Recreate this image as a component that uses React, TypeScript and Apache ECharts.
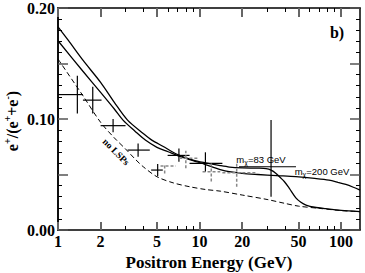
import React, { useEffect, useRef } from 'react';
import * as echarts from 'echarts';

const E_MAX = 136;
const majorTicks = [1, 2, 5, 10, 20, 50, 100];
const minorTicks = [3, 4, 6, 7, 8, 9, 30, 40, 60, 70, 80, 90];

// black crosses
const crossEnergy = [1.37, 1.76, 2.45, 3.68, 5.06, 7.15, 11.0, 32.0];
const crossValue = [0.122, 0.117, 0.094, 0.072, 0.054, 0.0672, 0.060, 0.057];
const crossELow = [1.0, 1.5, 2.0, 3.1, 4.55, 5.95, 8.5, 19.0];
const crossEHigh = [1.5, 2.03, 3.0, 4.45, 5.5, 8.5, 14.5, 48.0];
const crossVLow = [0.105, 0.105, 0.088, 0.066, 0.0485, 0.0615, 0.0525, 0.030];
const crossVHigh = [0.139, 0.129, 0.100, 0.078, 0.0595, 0.0735, 0.0700, 0.099];

// grey dashed crosses
const greyEnergy = [5.67, 8.0, 12.1, 18.3];
const greyValue = [0.0577, 0.0646, 0.0525, 0.0516];
const greyELow = [5.3, 7.2, 10.5, 14.5];
const greyEHigh = [6.8, 9.7, 14.0, 25.6];
const greyVLow = [0.051, 0.0556, 0.0436, 0.039];
const greyVHigh = [0.060, 0.0713, 0.060, 0.0615];

// mχ = 83 GeV curve
const m83Energy = [1.0, 1.18, 1.5, 2.0, 2.5, 3.1, 4.0, 4.6, 5.5, 7.0, 9.0, 11.0, 14.0, 16.3, 20.0, 25.8, 29.5, 32.0, 34.7, 37.0, 39.8, 43.1, 47.9, 52.0, 56.5, 65.0, 78.0, 100.0, 136.0];
const m83Value = [0.183, 0.171, 0.153, 0.133, 0.115, 0.099, 0.087, 0.081, 0.0755, 0.068, 0.063, 0.0605, 0.058, 0.0567, 0.0560, 0.0557, 0.0553, 0.0540, 0.0510, 0.0475, 0.0435, 0.0375, 0.0290, 0.0250, 0.0225, 0.0205, 0.0192, 0.0177, 0.0166];

// mχ = 200 GeV curve
const m200Energy = [1.0, 1.5, 2.0, 2.5, 2.88, 3.5, 4.14, 5.0, 6.0, 7.0, 9.0, 11.0, 14.0, 16.2, 20.0, 25.8, 35.0, 47.9, 65.0, 82.0, 95.0, 108.0, 122.0, 136.0];
const m200Value = [0.1705, 0.143, 0.124, 0.109, 0.099, 0.089, 0.081, 0.0745, 0.0705, 0.0670, 0.0625, 0.0590, 0.0545, 0.0525, 0.0510, 0.0500, 0.0490, 0.0480, 0.0465, 0.0450, 0.0430, 0.0410, 0.0385, 0.0360];

// no LSPs background
const bgEnergy = [1.0, 1.5, 2.0, 2.5, 3.0, 3.5, 4.0, 5.0, 6.5, 8.5, 11.0, 14.0, 20.0, 30.0, 40.0, 50.0, 70.0, 100.0, 136.0];
const bgValue = [0.154, 0.121, 0.097, 0.083, 0.073, 0.064, 0.057, 0.048, 0.0425, 0.039, 0.0365, 0.035, 0.0315, 0.0275, 0.024, 0.0215, 0.0195, 0.0175, 0.0165];

const lg = (e: number) => Math.log10(e);
const SERIF = '"Liberation Serif", "Times New Roman", serif';
const SANS = '"Liberation Sans", Arial, sans-serif';
const GRID_LEFT = 58;
const GRID_RIGHT = 5;
const CHART_W = 365;

function crossData(E: number[], V: number[], El: number[], Eh: number[], Vl: number[], Vh: number[]) {
  return E.map((e, i) => [lg(e), V[i], lg(El[i]), lg(Eh[i]), Vl[i], Vh[i]]);
}

function crossRenderer(stroke: string, lineWidth: number, dash: number[] | null) {
  return (params: any, api: any) => {
    const l = api.coord([api.value(2), api.value(1)]);
    const r = api.coord([api.value(3), api.value(1)]);
    const lo = api.coord([api.value(0), api.value(4)]);
    const hi = api.coord([api.value(0), api.value(5)]);
    const style: any = { stroke, lineWidth, fill: null };
    if (dash) style.lineDash = dash;
    return {
      type: 'group',
      children: [
        { type: 'line', shape: { x1: l[0], y1: l[1], x2: r[0], y2: r[1] }, style },
        { type: 'line', shape: { x1: lo[0], y1: lo[1], x2: hi[0], y2: hi[1] }, style },
      ],
    };
  };
}

function xAxisDef(position: 'top' | 'bottom', ticks: number[], len: number, major: boolean, showLine: boolean, showLabel: boolean) {
  return {
    type: 'value',
    position,
    offset: 0,
    min: 0,
    max: lg(E_MAX),
    splitLine: { show: false },
    axisLine: { show: showLine, onZero: false, lineStyle: { color: '#000', width: 1.5 } },
    axisTick: {
      show: true,
      inside: true,
      length: len,
      customValues: ticks.map(lg),
      lineStyle: { color: major ? '#666' : '#000', width: major ? 2 : 1 },
    },
    axisLabel: showLabel
      ? {
          show: true,
          customValues: majorTicks.map(lg),
          formatter: (v: number) => String(Math.round(Math.pow(10, v))),
          color: '#000',
          fontFamily: SERIF,
          fontWeight: 'bold',
          fontSize: 16,
          margin: 3,
        }
      : { show: false },
  };
}

// labels-only left axis
const yLabelAxis = {
  type: 'value',
  position: 'left',
  min: 0,
  max: 0.2,
  interval: 0.1,
  splitLine: { show: false },
  axisLine: { show: true, onZero: false, lineStyle: { color: '#000', width: 1.5 } },
  axisTick: { show: false },
  minorTick: { show: false },
  axisLabel: {
    show: true,
    formatter: (v: number) => v.toFixed(2),
    color: '#000',
    fontFamily: SERIF,
    fontWeight: 'bold',
    fontSize: 16,
    margin: 3,
  },
};

function yTickAxis(offset: number, inside: boolean) {
  return {
    type: 'value',
    position: 'right',
    offset,
    min: 0,
    max: 0.2,
    interval: 0.05,
    splitLine: { show: false },
    axisLine: { show: true, onZero: false, lineStyle: { color: '#000', width: 1.5 } },
    axisTick: { show: true, inside, length: 10, lineStyle: { color: '#555', width: 1.5 } },
    minorTick: { show: true, splitNumber: 5, length: 4, lineStyle: { color: '#000', width: 1 } },
    minorSplitLine: { show: false },
    axisLabel: { show: false },
  };
}

export default function App() {
  const ref = useRef<HTMLDivElement>(null);
  useEffect(() => {
    if (!ref.current) return;
    const chart = echarts.init(ref.current, null, { renderer: 'svg' });
    const line = (E: number[], V: number[], dashed: boolean) => ({
      type: 'line',
      xAxisIndex: 0,
      yAxisIndex: 0,
      data: E.map((e, i) => [lg(e), V[i]]),
      showSymbol: false,
      symbol: 'none',
      smooth: 0.3,
      lineStyle: { color: '#000', width: dashed ? 1 : 1.3, type: dashed ? [5, 3] : 'solid' },
      z: 3,
    });
    const small = (text: string, x: number, y: number) => ({
      type: 'text',
      x,
      y,
      style: {
        text,
        fontFamily: SANS,
        fontSize: 9.5,
        fill: '#000',
        align: 'center',
        verticalAlign: 'middle',
        rich: { s: { fontFamily: SANS, fontSize: 7, verticalAlign: 'bottom', lineHeight: 13, fill: '#000' } },
      },
    });
    const plotW = CHART_W - GRID_LEFT - GRID_RIGHT;
    chart.setOption({
      animation: false,
      backgroundColor: '#fff',
      grid: { left: GRID_LEFT, right: GRID_RIGHT, top: 8, bottom: 43, containLabel: false },
      xAxis: [
        xAxisDef('bottom', majorTicks, 8, true, true, true),
        xAxisDef('bottom', minorTicks, 4, false, false, false),
        xAxisDef('top', majorTicks, 9, true, true, false),
        xAxisDef('top', minorTicks, 4, false, false, false),
      ],
      yAxis: [yLabelAxis, yTickAxis(0, true), yTickAxis(-plotW, false)],
      series: [
        line(bgEnergy, bgValue, true),
        line(m83Energy, m83Value, false),
        line(m200Energy, m200Value, false),
        {
          type: 'custom',
          xAxisIndex: 0,
          yAxisIndex: 0,
          renderItem: crossRenderer('#000', 1.2, null),
          encode: { x: 0, y: 1 },
          data: crossData(crossEnergy, crossValue, crossELow, crossEHigh, crossVLow, crossVHigh),
          z: 4,
        },
        {
          type: 'custom',
          xAxisIndex: 0,
          yAxisIndex: 0,
          renderItem: crossRenderer('#888', 1.5, [3, 2]),
          encode: { x: 0, y: 1 },
          data: crossData(greyEnergy, greyValue, greyELow, greyEHigh, greyVLow, greyVHigh),
          z: 4,
        },
      ],
      graphic: [
        {
          type: 'text',
          x: 12,
          y: 121,
          rotation: Math.PI / 2,
          style: {
            text: '{b|e}{s|+}{b|/(e}{s|+}{b|+e}{s|-}{b|)}',
            align: 'center',
            verticalAlign: 'middle',
            rich: {
              b: { fontFamily: SERIF, fontWeight: 'bold', fontSize: 16, lineHeight: 20, fill: '#000' },
              s: { fontFamily: SERIF, fontWeight: 'bold', fontSize: 10, lineHeight: 20, verticalAlign: 'top', fill: '#000' },
            },
          },
        },
        {
          type: 'text',
          x: 209,
          y: 262,
          style: {
            text: 'Positron Energy (GeV)',
            fontFamily: SERIF,
            fontWeight: 'bold',
            fontSize: 17,
            fill: '#000',
            align: 'center',
            verticalAlign: 'middle',
          },
        },
        {
          type: 'text',
          x: 337,
          y: 32,
          style: {
            text: 'b)',
            fontFamily: SERIF,
            fontWeight: 'bold',
            fontSize: 16,
            fill: '#000',
            align: 'center',
            verticalAlign: 'middle',
          },
        },
        {
          type: 'text',
          x: 116,
          y: 152,
          rotation: -Math.PI / 4,
          style: {
            text: 'no LSPs',
            fontFamily: SERIF,
            fontWeight: 'bold',
            fontSize: 9.5,
            fill: '#000',
            align: 'center',
            verticalAlign: 'middle',
          },
        },
        small('m{s|χ}=83 GeV', 261, 159),
        small('m{s|χ}=200 GeV', 322, 171.5),
      ],
    });
    return () => chart.dispose();
  }, []);
  return <div ref={ref} style={{ width: 365, height: 273, position: 'absolute', left: 0, top: 0 }} />;
}
